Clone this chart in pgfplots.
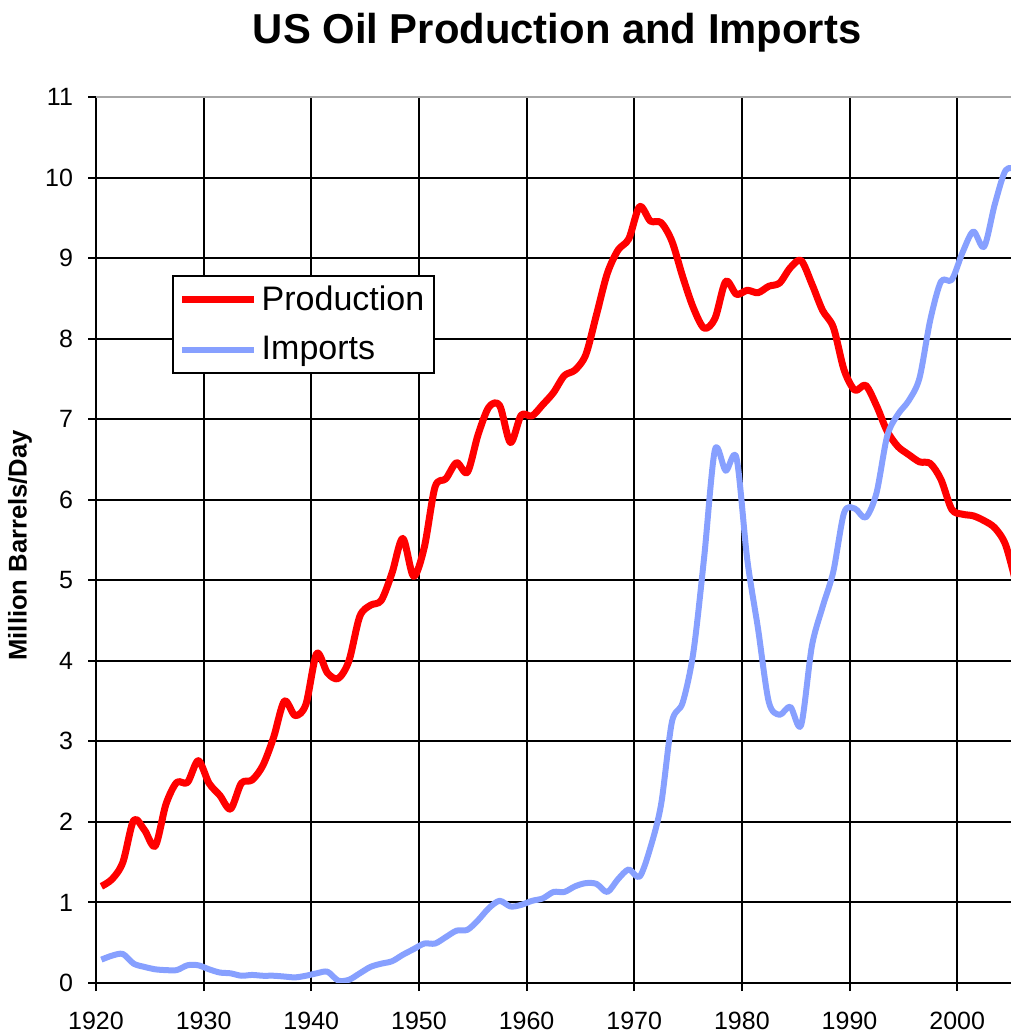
\documentclass[border=0pt]{standalone}
\usepackage{pgfplots}
\pgfplotsset{compat=1.18}
\usepackage{pgfplotstable}
\usepackage{fontspec}
\setmainfont{Liberation Sans}

\definecolor{prodred}{RGB}{255,0,0}
\definecolor{impblue}{RGB}{135,160,255}

% million barrels per day, one value per year
\pgfplotstableread{
year prod imp
1920 1.20 0.29
1921 1.29 0.34
1922 1.50 0.36
1923 2.02 0.24
1924 1.90 0.20
1925 1.70 0.17
1926 2.22 0.16
1927 2.49 0.16
1928 2.49 0.22
1929 2.76 0.22
1930 2.48 0.17
1931 2.33 0.13
1932 2.16 0.12
1933 2.48 0.09
1934 2.52 0.10
1935 2.70 0.09
1936 3.05 0.09
1937 3.50 0.08
1938 3.32 0.07
1939 3.46 0.09
1940 4.09 0.12
1941 3.85 0.14
1942 3.78 0.03
1943 4.00 0.04
1944 4.55 0.12
1945 4.69 0.20
1946 4.75 0.24
1947 5.09 0.27
1948 5.52 0.35
1949 5.05 0.42
1950 5.41 0.49
1951 6.16 0.49
1952 6.26 0.57
1953 6.46 0.65
1954 6.34 0.66
1955 6.81 0.78
1956 7.15 0.93
1957 7.17 1.02
1958 6.71 0.95
1959 7.05 0.97
1960 7.04 1.02
1961 7.18 1.05
1962 7.33 1.13
1963 7.54 1.13
1964 7.61 1.20
1965 7.80 1.24
1966 8.30 1.23
1967 8.81 1.13
1968 9.10 1.29
1969 9.24 1.41
1970 9.64 1.32
1971 9.46 1.68
1972 9.44 2.22
1973 9.21 3.24
1974 8.77 3.48
1975 8.38 4.11
1976 8.13 5.29
1977 8.25 6.62
1978 8.71 6.36
1979 8.55 6.52
1980 8.60 5.26
1981 8.57 4.40
1982 8.65 3.49
1983 8.69 3.33
1984 8.88 3.43
1985 8.97 3.20
1986 8.68 4.18
1987 8.35 4.67
1988 8.14 5.11
1989 7.61 5.84
1990 7.36 5.89
1991 7.42 5.78
1992 7.17 6.08
1993 6.85 6.79
1994 6.66 7.06
1995 6.56 7.23
1996 6.47 7.51
1997 6.45 8.23
1998 6.25 8.71
1999 5.88 8.73
2000 5.82 9.07
2001 5.80 9.33
2002 5.74 9.14
2003 5.65 9.67
2004 5.44 10.09
2005 4.95 10.10
}\oildata

\begin{document}
\begin{tikzpicture}
\begin{axis}[
    name=ax,
    scale only axis,
    width=457.5pt, height=443pt,
    xmin=1920, xmax=2005,
    ymin=0, ymax=11,
    xtick={1920,1930,...,2000},
    ytick={0,1,...,10},
    extra y ticks={11},
    extra y tick style={grid style={gray!70, line width=1pt}},
    axis x line*=bottom, axis y line*=left,
    axis line style={black, line width=1.1pt},
    grid=major,
    grid style={black, line width=1pt},
    tick align=outside,
    major tick length=4pt,
    tick style={black, line width=1pt},
    /pgf/number format/1000 sep={},
    /pgf/number format/assume math mode=true,
    tick label style={font=\fontsize{12.5}{14}\selectfont},
    yticklabel style={xshift=-4pt},
    xticklabel style={yshift=-7pt},
    title={US Oil Production and Imports},
    title style={at={(axis description cs:0.504,1)}, anchor=base, yshift=20.5pt,
                 font=\bfseries\fontsize{20.9}{25}\selectfont},
    ylabel={Million Barrels/Day},
    ylabel style={at={(axis description cs:-0.083,0.494)}, anchor=center,
                  font=\bfseries\fontsize{12.8}{15}\selectfont},
    legend style={at={(axis description cs:0.083,0.799)}, anchor=north west,
                  draw=black, line width=0.8pt, fill=white,
                  font=\fontsize{17}{20}\selectfont,
                  inner xsep=3pt, inner ysep=3pt, row sep=7.5pt},
    legend cell align=left,
    legend image code/.code={\draw[#1] (0pt,0pt) -- (36pt,0pt);},
]

\addplot[prodred, line width=3.5pt, smooth, tension=0.5, line join=round]
    table[x expr=\thisrow{year}+0.5, y=prod] {\oildata};
\addplot[impblue, line width=3pt, smooth, tension=0.5, line join=round]
    table[x expr=\thisrow{year}+0.5, y=imp] {\oildata};

\legend{Production, Imports}
\end{axis}
\pgfresetboundingbox
\path ([shift={(-48pt,-25.5pt)}]ax.south west) rectangle ([shift={(0pt,48.5pt)}]ax.north east);
\end{tikzpicture}
\end{document}
